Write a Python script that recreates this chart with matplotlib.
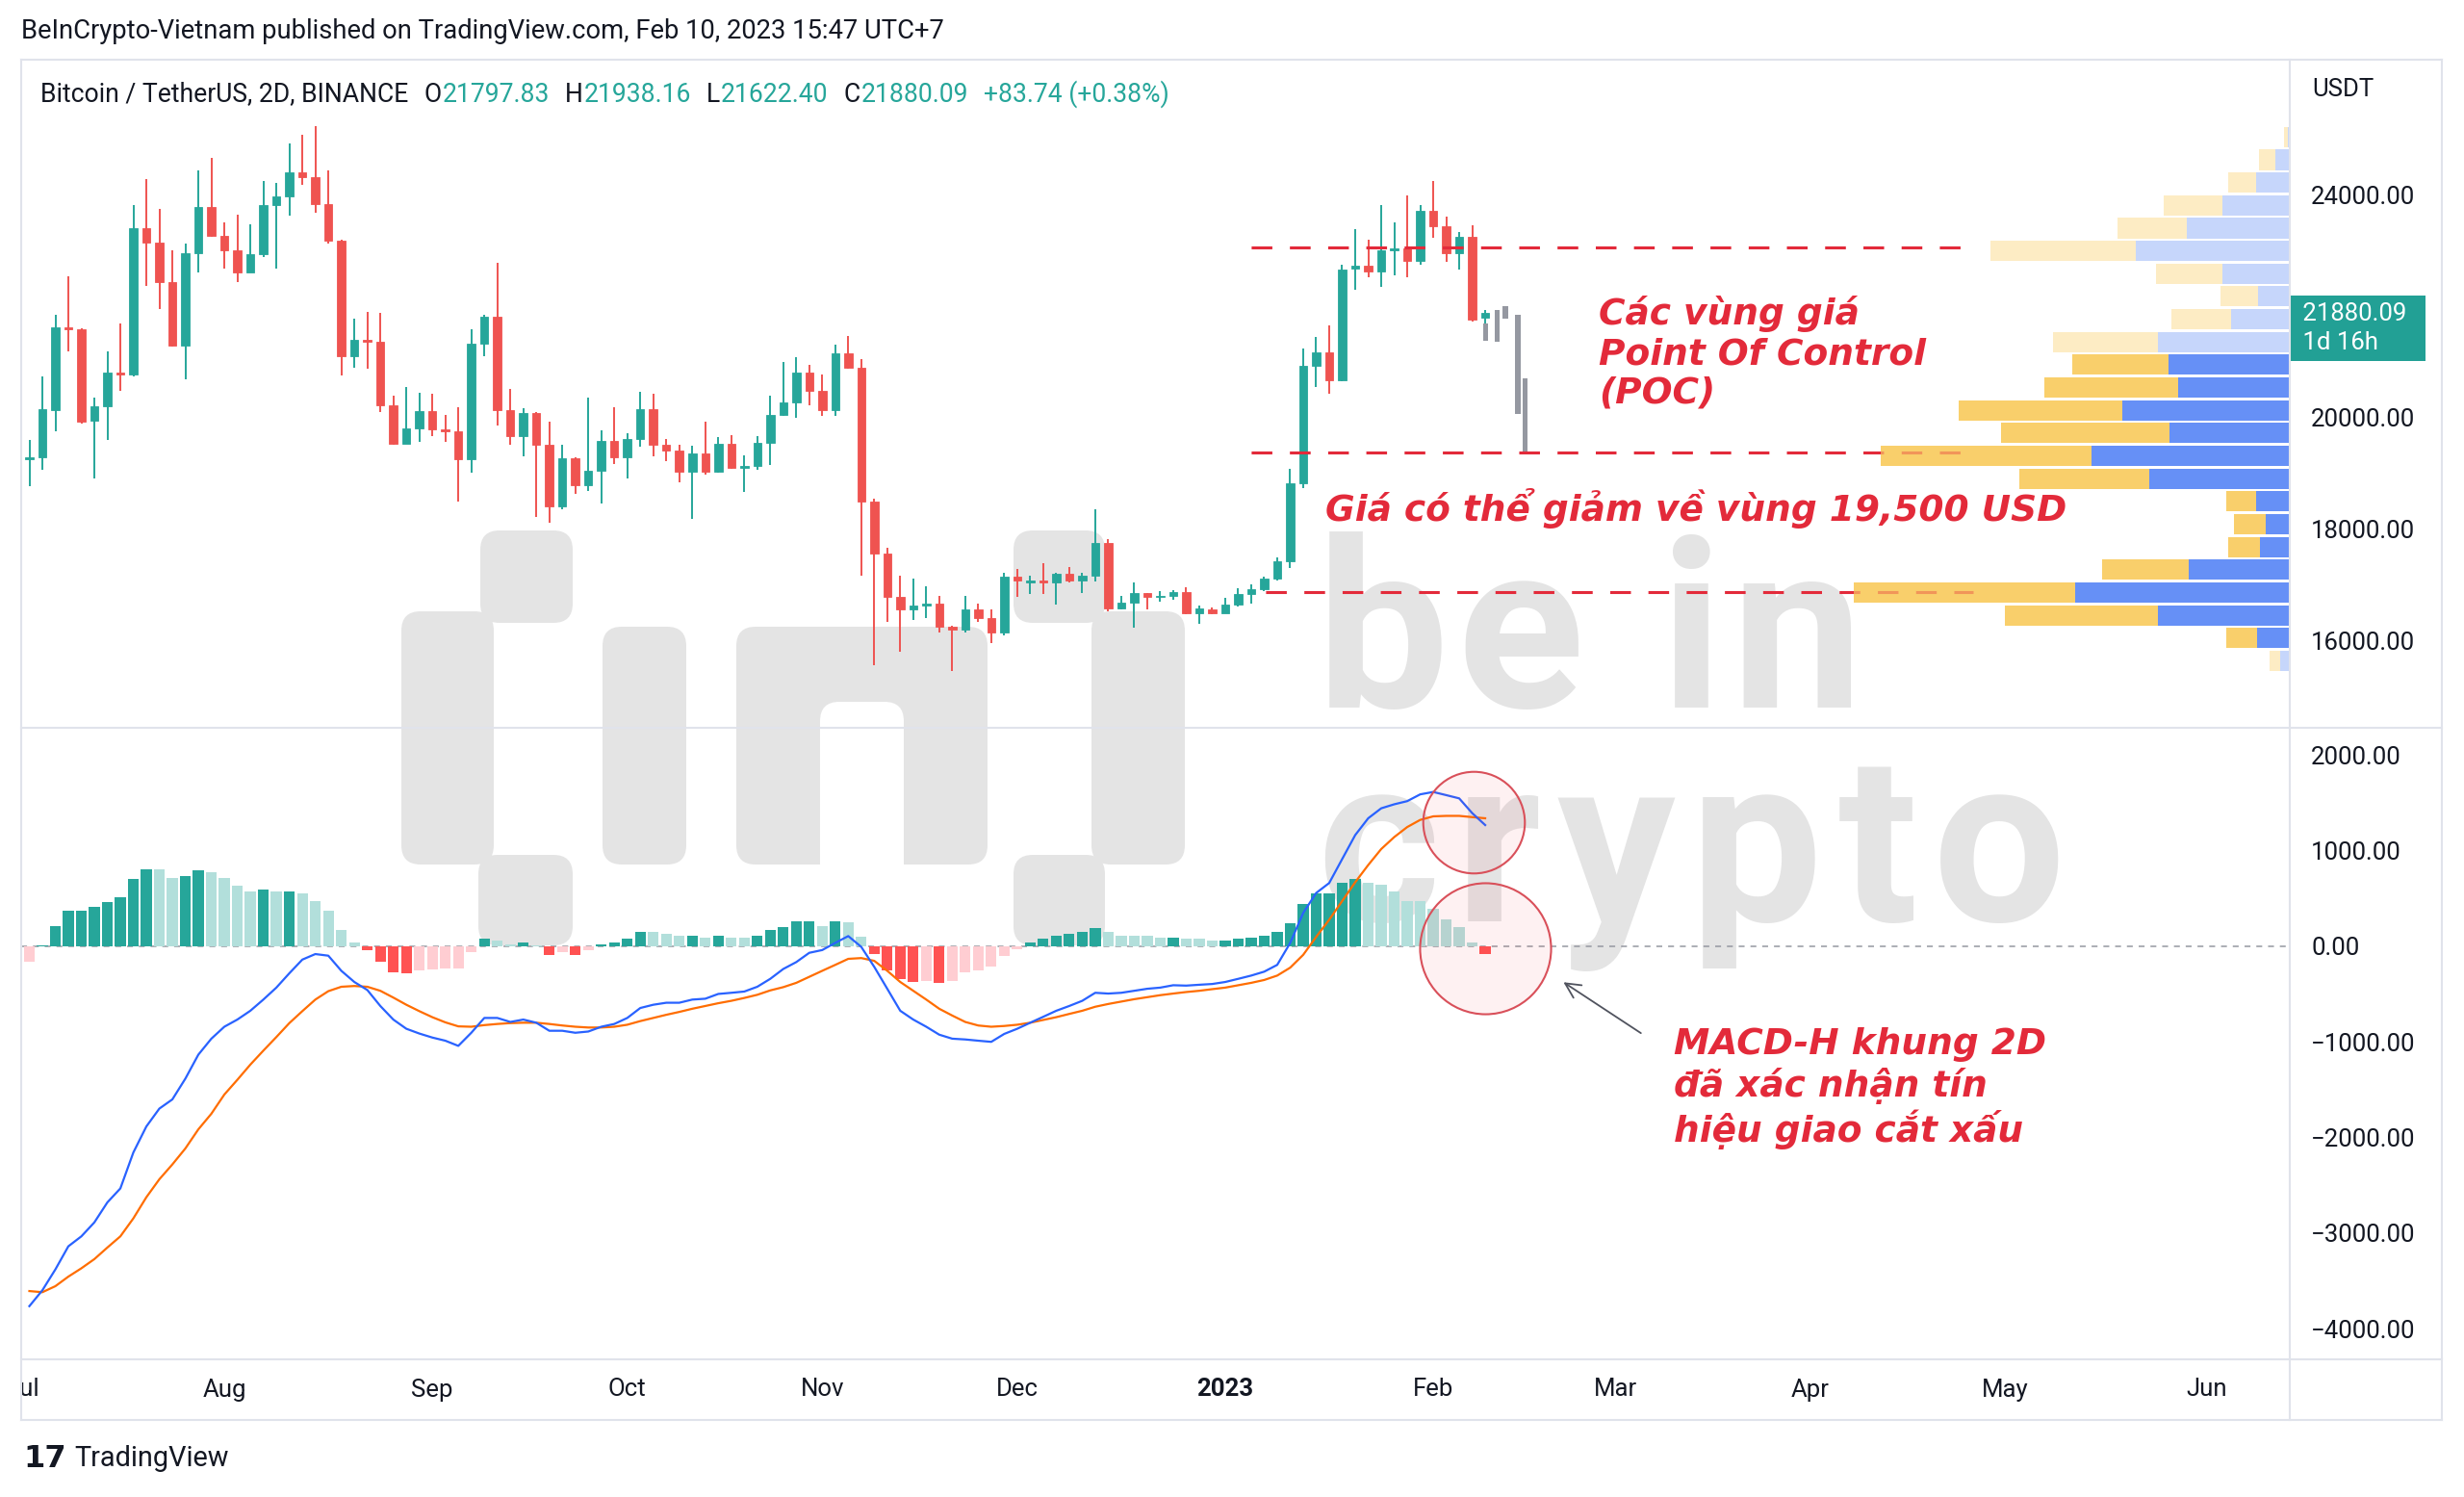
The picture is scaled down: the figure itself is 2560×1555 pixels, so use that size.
import numpy as np
import pandas as pd
import matplotlib
matplotlib.use("Agg")
import matplotlib.pyplot as plt
import matplotlib.dates as mdates
from matplotlib.patches import FancyBboxPatch
from matplotlib.lines import Line2D
from matplotlib.transforms import blended_transform_factory as blend

# ---------------------------------------------------------------- data
start_date = "2022-07-01"          # first 2D candle

opens = [19265, 19291, 20140, 21620, 21590, 19945, 20202, 20809, 20770, 23402,
         23138, 22425, 21290, 22940, 23778, 23256, 22993, 22610, 22930, 23817,
         23962, 24405, 24306, 23830, 23171, 21106, 21402, 21369, 20221, 19542,
         19806, 20122, 19800, 19766, 19258, 21336, 21818, 20136, 19674, 20083,
         19522, 18420, 19278, 18796, 19047, 19588, 19291, 19621, 20149, 19509,
         19410, 19034, 19364, 19034, 19529, 19110, 19146, 19555, 20056, 20268,
         20809, 20485, 20136, 21158, 20894, 18506, 17562, 16790, 16573, 16639,
         16672, 16263, 16210, 16573, 16408, 16157, 17147, 17060, 17087, 17060,
         17199, 17087, 17166, 17760, 16586, 16691, 16856, 16797, 16817, 16883,
         16507, 16573, 16507, 16652, 16850, 16936, 17114, 17430, 18829, 20927,
         21178, 20677, 22676, 22722, 22623, 22993, 23026, 22808, 23712, 23435,
         22940, 23237, 21797.83]
highs = [19608, 20743, 21838, 22531, 21600, 20367, 21191, 21686, 23817, 24279,
         23745, 22993, 23118, 24438, 24655, 23501, 23646, 23461, 24246, 24213,
         24906, 25064, 25229, 24438, 23190, 21772, 21897, 21871, 20400, 20551,
         20452, 20433, 20056, 20182, 21587, 21838, 22775, 20518, 20169, 20100,
         19938, 19522, 19291, 20367, 19773, 20182, 19720, 20465, 20433, 19621,
         19522, 19496, 19938, 19654, 19687, 19331, 19674, 20400, 20993, 21092,
         20941, 20776, 21310, 21468, 21059, 18550, 17675, 17180, 17114, 16988,
         16804, 16280, 16804, 16672, 16573, 17232, 17285, 17166, 17397, 17232,
         17331, 17232, 18367, 17826, 16804, 17048, 16870, 16903, 16916, 16969,
         16639, 16606, 16771, 16949, 17015, 17153, 17496, 19080, 21244, 21455,
         21653, 22742, 23382, 23184, 23817, 23501, 23976, 23817, 24240, 23600,
         23336, 23448, 21938.16]
lows = [18783, 19067, 19760, 21191, 19905, 18915, 19595, 20479, 20740, 22366,
        21950, 21270, 20696, 22610, 23237, 22676, 22425, 22600, 22874, 22676,
        23619, 24174, 23679, 23118, 20762, 20894, 20887, 20103, 19509, 19530,
        19575, 19674, 19575, 18499, 19014, 21106, 19858, 19509, 19311, 18222,
        18123, 18354, 18631, 18684, 18473, 19166, 18915, 19476, 19311, 19225,
        18849, 18189, 18981, 19020, 19080, 18671, 19067, 19159, 20040, 20004,
        20221, 20037, 20037, 20880, 17166, 15563, 16342, 15814, 16375, 16408,
        16157, 15471, 16157, 16342, 15966, 16098, 16790, 16837, 16837, 16652,
        17048, 16870, 17068, 16540, 16573, 16243, 16573, 16705, 16738, 16474,
        16309, 16474, 16500, 16620, 16672, 16890, 17087, 17312, 18737, 20545,
        20433, 20660, 22300, 22511, 22346, 22557, 22524, 22742, 23217, 22788,
        22656, 21719, 21622.40]
closes = [19291, 20149, 21620, 21590, 19938, 20202, 20809, 20770, 23402, 23138,
          22425, 21290, 22940, 23778, 23256, 22993, 22610, 22930, 23817, 23962,
          24405, 24306, 23830, 23171, 21106, 21402, 21369, 20221, 19542, 19806,
          20122, 19800, 19766, 19258, 21336, 21818, 20136, 19674, 20083, 19522,
          18420, 19278, 18796, 19047, 19588, 19291, 19621, 20149, 19509, 19410,
          19034, 19364, 19034, 19529, 19100, 19146, 19555, 20056, 20268, 20809,
          20485, 20136, 21158, 20894, 18506, 17562, 16790, 16573, 16639, 16672,
          16263, 16210, 16573, 16408, 16157, 17147, 17087, 17087, 17060, 17199,
          17087, 17166, 17760, 16586, 16691, 16856, 16790, 16817, 16883, 16507,
          16586, 16507, 16652, 16850, 16936, 17114, 17430, 18829, 20927, 21178,
          20677, 22656, 22722, 22623, 22993, 23026, 22808, 23712, 23435, 22940,
          23237, 21765, 21880.09]

macd_hist = [-167, 8, 209, 367, 368, 409, 459, 514, 701, 806,
             800, 714, 735, 793, 772, 714, 626, 568, 589, 568,
             572, 555, 472, 367, 167, 42, -42, -163, -271, -288,
             -250, -246, -238, -230, -63, 75, 54, 13, 42, 2,
             -92, -63, -92, -42, 21, 42, 75, 150, 148, 125,
             109, 110, 88, 110, 88, 86, 109, 167, 200, 255,
             258, 213, 255, 252, 96, -84, -250, -342, -376, -363,
             -384, -363, -280, -250, -217, -100, -29, 42, 75, 109,
             125, 146, 188, 150, 109, 108, 107, 88, 90, 75,
             74, 54, 56, 75, 88, 109, 146, 242, 443, 547,
             548, 660, 701, 660, 639, 568, 472, 470, 388, 276,
             200, 42, -84]
macd_line = [-3766, -3600, -3382, -3140, -3036, -2890, -2681, -2535, -2159, -1887,
             -1700, -1604, -1387, -1136, -969, -844, -769, -677, -560, -435,
             -285, -142, -84, -101, -259, -376, -460, -627, -769, -865,
             -915, -957, -990, -1044, -907, -752, -752, -794, -769, -802,
             -886, -886, -907, -894, -844, -815, -752, -648, -614, -593,
             -593, -560, -551, -501, -489, -476, -426, -343, -240, -168,
             -71, -42, 33, 104, -9, -218, -447, -677, -769, -844,
             -927, -969, -977, -990, -1002, -919, -865, -802, -740, -677,
             -627, -573, -489, -497, -489, -468, -447, -435, -410, -414,
             -405, -397, -376, -343, -309, -268, -197, 33, 346, 555,
             659, 910, 1160, 1336, 1440, 1482, 1515, 1586, 1611, 1578,
             1544, 1390, 1265]
signal_line = [-3608, -3620, -3557, -3457, -3370, -3274, -3153, -3036, -2848, -2627,
               -2439, -2284, -2117, -1917, -1754, -1553, -1399, -1240, -1094, -952,
               -806, -681, -560, -472, -426, -418, -426, -468, -539, -614,
               -681, -744, -798, -840, -844, -827, -815, -806, -802, -802,
               -815, -831, -844, -852, -852, -844, -823, -785, -752, -719,
               -689, -656, -627, -598, -573, -543, -510, -464, -430, -385,
               -322, -259, -197, -134, -126, -155, -259, -376, -468, -560,
               -656, -727, -794, -831, -844, -836, -823, -802, -773, -744,
               -710, -677, -635, -606, -581, -556, -535, -514, -497, -481,
               -468, -451, -435, -410, -385, -355, -309, -226, -92, 96,
               275, 471, 667, 847, 1014, 1139, 1244, 1319, 1356, 1361,
               1361, 1348, 1336]

# grey projected bars (drawing on the chart)
ghost_times = ["2023-02-10 02:24", "2023-02-11 19:12", "2023-02-13 02:24",
               "2023-02-15 00:00", "2023-02-16 02:24"]
ghost_low = [21375, 21354, 21769, 20067, 19338]
ghost_high = [21697, 21926, 21997, 21840, 20711]

# volume profile (visible range)
vp_price = [25030, 24622, 24214, 23806, 23398, 22990, 22582, 22174, 21766, 21358,
            20950, 20542, 20134, 19726, 19318, 18910, 18502, 18094, 17686, 17278,
            16870, 16462, 16054, 15646]
vp_up = [2, 15, 35, 70, 107, 160, 70, 33, 61, 137, 126, 116, 174, 125, 206, 146,
         35, 25, 31, 105, 223, 137, 34, 10]
vp_down = [4, 17, 29, 61, 72, 151, 69, 39, 62, 109, 100, 139, 170, 175, 219, 135,
           31, 33, 33, 90, 230, 159, 32, 11]
vp_value_area = [False] * 10 + [True] * 13 + [False]

# POC lines
poc_levels = [23060, 19380, 16875]
poc_start = ["2023-01-05 00:00", "2023-01-05 00:00", "2023-01-07 05:00"]
poc_end = ["2023-04-24 14:00", "2023-04-24 14:00", "2023-04-26 02:00"]

price_ticks = [16000, 18000, 20000, 24000]
macd_ticks = [2000, 1000, 0, -1000, -2000, -3000, -4000]
month_ticks = ["2022-06-30", "2022-07-31", "2022-09-01", "2022-10-01", "2022-10-31",
               "2022-11-30", "2023-01-01", "2023-02-02", "2023-03-02", "2023-04-01",
               "2023-05-01", "2023-06-01"]
month_labels = ["Jul", "Aug", "Sep", "Oct", "Nov", "Dec", "2023", "Feb", "Mar",
                "Apr", "May", "Jun"]

header_text = "BeInCrypto-Vietnam published on TradingView.com, Feb 10, 2023 15:47 UTC+7"
legend_pieces = [("Bitcoin / TetherUS, 2D, BINANCE", "k", 16), ("O", "k", 1),
                 ("21797.83", "t", 16), ("H", "k", 1), ("21938.16", "t", 16),
                 ("L", "k", 1), ("21622.40", "t", 16), ("C", "k", 1),
                 ("21880.09", "t", 16), ("+83.74 (+0.38%)", "t", 0)]
last_price = 21880.09
countdown = "1d 16h"

poc_note = "Các vùng giá\nPoint Of Control\n(POC)"
drop_note = "Giá có thể giảm về vùng 19,500 USD"
macd_note = "MACD-H khung 2D\nđã xác nhận tín\nhiệu giao cắt xấu"

# ---------------------------------------------------------------- style
UP, DN = "#26a69a", "#ef5350"
H_DG, H_LG, H_DR, H_LR = "#26a69a", "#b2dfdb", "#ff5252", "#ffcdd2"
BLUE, ORANGE = "#2962ff", "#ff6d00"
RED = "#e32a3a"
TXT = "#131722"
FRAME = "#e0e3eb"
WM = "#e4e4e4"
FONT = ["Roboto", "DejaVu Sans"]
NOTE_FONT = ["DejaVu Sans"]
NOTE_FS = 27
FS = 18.5
plt.rcParams["font.family"] = FONT

W, H = 2560, 1555
fig = plt.figure(figsize=(W / 100, H / 100), dpi=100)
fig.patch.set_facecolor("white")
renderer = fig.canvas.get_renderer()


def fbox(x0, y0, x1, y1):
    return [x0 / W, 1 - y1 / H, (x1 - x0) / W, (y1 - y0) / H]


ax1 = fig.add_axes(fbox(22, 62, 2379, 756))
ax2 = fig.add_axes(fbox(22, 756, 2379, 1412), sharex=ax1)
ax3 = fig.add_axes(fbox(22, 1412, 2379, 1475), sharex=ax1)
for a in (ax1, ax2, ax3):
    a.set_facecolor("none")
    for s in a.spines.values():
        s.set_visible(False)

dates = pd.date_range(start_date, periods=len(opens), freq="2D")
x = mdates.date2num(dates.to_pydatetime())
t0 = mdates.date2num(pd.Timestamp(start_date).to_pydatetime())
d2n = lambda s: mdates.date2num(pd.Timestamp(s).to_pydatetime())
ax1.set_xlim(t0 - 1.26, t0 + 347.8)

# ---------------------------------------------------------------- candles
o, h_, l_, c = map(np.asarray, (opens, highs, lows, closes))
col = np.where(c >= o, UP, DN)
ax1.vlines(x, l_, h_, colors=col, lw=1.4, zorder=2)
ax1.bar(x, np.abs(c - o), bottom=np.minimum(o, c), width=1.26, color=col,
        edgecolor=col, linewidth=0.6, zorder=3)

gx = [d2n(s) for s in ghost_times]
ax1.bar(gx, np.asarray(ghost_high) - np.asarray(ghost_low), bottom=ghost_low,
        width=0.8, color="#9598a1", linewidth=0, zorder=3)

for lvl, s, e in zip(poc_levels, poc_start, poc_end):
    ax1.plot([d2n(s), d2n(e)], [lvl, lvl], color=RED, lw=2.2,
             ls=(0, (7, 6)), zorder=4, solid_capstyle="butt")

ax1.set_ylim(14448, 26414)

# ---------------------------------------------------------------- volume profile
vp = ax1.twiny()
blue_c = ["#6690f6" if v else "#c6d6fb" for v in vp_value_area]
yell_c = ["#f9cf6b" if v else "#fdecc4" for v in vp_value_area]
vp.barh(vp_price, vp_up, height=365, left=0, color=blue_c, linewidth=0)
vp.barh(vp_price, vp_down, height=365, left=vp_up, color=yell_c, linewidth=0)
for lvl, s, e in zip(poc_levels, poc_start, poc_end):
    vp.plot([d2n(s), d2n(e)], [lvl, lvl], color=RED, lw=2.2, alpha=0.35,
            ls=(0, (7, 6)), transform=ax1.transData, solid_capstyle="butt")
vp.set_xlim(2357, 0)
vp.set_axis_off()

ax1.yaxis.tick_right()
ax1.set_yticks(price_ticks)
ax1.set_yticklabels([f"{v:.2f}" for v in price_ticks])
ax1.tick_params(axis="y", length=0, pad=16, labelsize=FS, labelcolor=TXT)
ax1.tick_params(axis="x", which="both", bottom=False, top=False,
                labelbottom=False, labeltop=False)

# annotations on price pane (va=baseline -> baseline of the last line)
note_kw = dict(color=RED, fontsize=NOTE_FS, style="oblique", weight="bold",
               family=NOTE_FONT, ha="left", va="baseline", zorder=6,
               linespacing=1.17)
ax1.text(t0 + 241.5, 20259, poc_note, **note_kw)
ax1.text(t0 + 199.4, 18159, drop_note, **note_kw)

ax1.annotate(f" {last_price:.2f}  \n {countdown}", xy=(1, last_price),
             xycoords=blend(ax1.transAxes, ax1.transData),
             xytext=(5.0, -11.5), textcoords="offset points", ha="left",
             va="center", color="white", fontsize=FS, linespacing=1.32,
             annotation_clip=False, zorder=8,
             bbox=dict(boxstyle="square,pad=0.27", fc="#22a095", ec="none"))

# ---------------------------------------------------------------- MACD pane
hist_colors = []
prev = macd_hist[0]
for hv in macd_hist:
    if hv >= 0:
        hist_colors.append(H_DG if hv > prev else H_LG)
    else:
        hist_colors.append(H_DR if hv < prev else H_LR)
    prev = hv
ax2.axhline(0, color="#9598a1", lw=1.1, ls=(0, (4, 4)), zorder=1)
ax2.bar(x, macd_hist, width=1.66, color=hist_colors, linewidth=0, zorder=2)
ax2.plot(x, macd_line, color=BLUE, lw=1.6, zorder=4)
ax2.plot(x, signal_line, color=ORANGE, lw=1.6, zorder=3)

ax2.plot([t0 + 222.2], [1299], marker="o", ms=76, mfc=(0.95, 0.25, 0.3, 0.07),
         mec="#d9505a", mew=1.5, zorder=5, clip_on=False)
ax2.plot([t0 + 224.0], [-20], marker="o", ms=98, mfc=(0.95, 0.25, 0.3, 0.07),
         mec="#d9505a", mew=1.5, zorder=5, clip_on=False)
ax2.annotate("", xy=(t0 + 235.7, -363), xytext=(t0 + 248.3, -926),
             arrowprops=dict(arrowstyle="->", color="#50535e", lw=1.3,
                             mutation_scale=28), zorder=6)
ax2.text(t0 + 253.0, -2044, macd_note, **note_kw)

ax2.set_ylim(-4322, 2282)
ax2.yaxis.tick_right()
ax2.set_yticks(macd_ticks)
ax2.set_yticklabels([f"{v:.2f}".replace("-", "\u2212") for v in macd_ticks])
ax2.tick_params(axis="y", length=0, pad=16, labelsize=FS, labelcolor=TXT)
ax2.tick_params(axis="x", bottom=False, labelbottom=False)

# ---------------------------------------------------------------- time axis
ax3.set_ylim(0, 1)
ax3.set_yticks([])
ax3.tick_params(axis="x", bottom=False, labelbottom=False)
tr3 = blend(ax3.transData, ax3.transAxes)
for d, lab in zip(month_ticks, month_labels):
    ax3.text(d2n(d), 0.5, lab, transform=tr3, ha="center", va="center",
             fontsize=FS, color=TXT, weight="bold" if lab.isdigit() else "normal",
             clip_on=True)

# ---------------------------------------------------------------- watermark
IN = fig.dpi_scale_trans


def wm_rect(x0, y0, x1, y1, color=WM, r=20, z=-3):
    p = FancyBboxPatch((x0 / 100, (H - y1) / 100), (x1 - x0) / 100, (y1 - y0) / 100,
                       boxstyle=f"round,pad=0,rounding_size={r / 100}",
                       transform=IN, facecolor=color, edgecolor="none", zorder=z)
    fig.add_artist(p)


for bx in [(499, 551, 595, 647), (417, 635, 513, 898), (497, 888, 595, 982),
           (626, 651, 713, 898), (765, 651, 1026, 898),
           (1053, 551, 1148, 647), (1134, 635, 1231, 898), (1053, 888, 1148, 982)]:
    wm_rect(*bx)
wm_rect(852, 729, 939, 930, color="white", r=20, z=-2)


def tracked(x_px, base_px, s, track, size):
    for ch in s:
        if ch == " ":
            x_px += 0.26 * size * 100 / 72 + track
            continue
        t = fig.text(x_px / W, 1 - base_px / H, ch, fontsize=size, color=WM,
                     family=FONT, weight="bold", va="baseline", ha="left",
                     zorder=-1)
        x_px += t.get_window_extent(renderer).width + track


tracked(1368, 735, "be in", 8, 176)
tracked(1368, 957, "crypto", 16, 176)

# ---------------------------------------------------------------- frame lines
def fline(x0, y0, x1, y1, color=FRAME, lw=1.5):
    fig.add_artist(Line2D([x0 / 100, x1 / 100], [(H - y0) / 100, (H - y1) / 100],
                          transform=IN, color=color, lw=lw, zorder=10))


fline(22, 62, 2537, 62)
fline(22, 62, 22, 1475)
fline(2537, 62, 2537, 1475)
fline(22, 1475, 2537, 1475)
fline(22, 756, 2537, 756)
fline(22, 1412, 2537, 1412)
fline(2379, 62, 2379, 1475)

# ---------------------------------------------------------------- texts
fig.text(22 / W, 1 - 33 / H, header_text, fontsize=19.7, color=TXT, va="center",
         ha="left")
fig.text(2402 / W, 1 - 93 / H, "USDT", fontsize=FS, color=TXT, va="center",
         ha="left")

xpos = 42
for txt, kind, gap in legend_pieces:
    t = fig.text(xpos / W, 1 - 98 / H, txt, fontsize=19.1, va="center", ha="left",
                 color=TXT if kind == "k" else "#26a69a")
    xpos += t.get_window_extent(renderer).width + gap

fig.text(24 / W, 1 - 1515 / H, "17", fontsize=23, color=TXT, va="center",
         ha="left", weight="heavy", family=["DejaVu Sans"])
fig.text(77 / W, 1 - 1515 / H, "TradingView", fontsize=20.8, color=TXT,
         va="center", ha="left")

fig.savefig("out.png", dpi=100, facecolor="white")
